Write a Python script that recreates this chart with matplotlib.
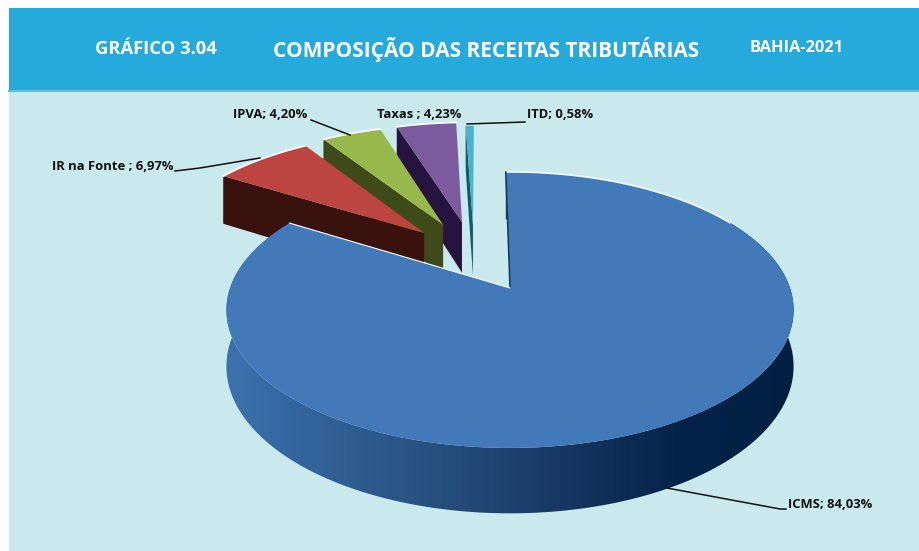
import matplotlib
matplotlib.use("Agg")
import matplotlib.pyplot as plt
import numpy as np
from matplotlib.colors import LinearSegmentedColormap
from matplotlib.patches import Polygon, Rectangle

plt.rcParams["font.family"] = ["Open Sans", "DejaVu Sans"]

# data
categories = ["ICMS", "IR na Fonte", "IPVA", "Taxas", "ITD"]
shares = [84.03, 6.97, 4.20, 4.23, 0.58]
labels = ["ICMS; 84,03%", "IR na Fonte ; 6,97%", "IPVA; 4,20%", "Taxas ; 4,23%", "ITD; 0,58%"]

# style / layout (pixel space)
top_colors = ["#4179b9", "#bc4541", "#99b84c", "#7b5b9e", "#4db2cb"]
wall_colors = [None, "#3a120d", "#3f4a19", "#26143f", "#0e5d6e"]
explode_x = [0.0, -0.328, -0.258, -0.186, -0.143]
explode_y = [0.0, 0.437, 0.506, 0.532, 0.506]
label_pos = [(788, 505), (52, 166), (233, 115), (377, 115), (527, 115)]
leaders = [
    [(667, 488), (780, 509), (786, 509)],
    [(175, 171), (200, 168), (260, 158)],
    [(311, 120), (350, 135)],
    [],
    [(525, 122), (467, 124)],
]
CX, CY, A, B, K, H = 510, 288, 280, 134.5, 0.159, 55
START = -1.0


def project(x, y, z=0.0):
    s = 1 / (1 + K * y)
    return CX + A * x * s, CY - B * y * s + H * z * s


def arc(theta0, theta1, dx, dy, z=0.0):
    th = np.radians(np.linspace(theta0, theta1, 200))
    return project(dx + np.sin(th), dy + np.cos(th), z)


edges = START + np.cumsum([0] + shares) * 3.6

fig = plt.figure(figsize=(9.2, 5.51), dpi=100)
ax = fig.add_axes([0, 0, 1, 1])
ax.axis("off")

ax.add_patch(Rectangle((9, 90), 911, 461, fc="#c9e9ed", ec="none", zorder=0))
ax.add_patch(Rectangle((9, 8), 911, 82, fc="#25aadb", ec="none", zorder=0))
ax.plot([9, 920], [90.5, 90.5], color="#62bfdc", lw=1.5, zorder=1)

ax.text(95, 49, "GRÁFICO 3.04", color="white", fontsize=13.2, fontweight="bold", va="center")
ax.text(273, 50, "COMPOSIÇÃO DAS RECEITAS TRIBUTÁRIAS", color="white", fontsize=15,
        fontweight="bold", va="center")
ax.text(750, 48, "BAHIA-2021", color="white", fontsize=11.8, fontweight="bold", va="center")

# small slices, back to front
for i in [4, 3, 2, 1]:
    t0, t1 = edges[i], edges[i + 1]
    dx, dy = explode_x[i], explode_y[i]
    # visible radial wall under the leading edge
    ox, oy = arc(t0, t0, dx, dy)
    ax0, ay0 = project(dx, dy)
    ox2, oy2 = arc(t0, t0, dx, dy, 1)
    ax2, ay2 = project(dx, dy, 1)
    ax.fill([ox[0], ax0, ax2, ox2[0]], [oy[0], ay0, ay2, oy2[0]], color=wall_colors[i], lw=0, zorder=2)
    # top face
    xs, ys = arc(t0, t1, dx, dy)
    ax.fill(np.r_[xs, ax0], np.r_[ys, ay0], color=top_colors[i], lw=0, zorder=2)
    ax.plot(xs, ys, color="white", lw=1.3, zorder=2)

# ICMS outer wall with gradient along x
t0, t1 = edges[0], edges[1]
xt, yt = arc(t0, t1, 0, 0)
xb, yb = arc(t0, t1, 0, 0, 1)
wall = Polygon(np.c_[np.r_[xt, xb[::-1]], np.r_[yt, yb[::-1]]], closed=True, fc="none", ec="none")
ax.add_patch(wall)
wall_cmap = LinearSegmentedColormap.from_list(
    "wall", [(0, "#3d72ad"), (0.13, "#33659c"), (0.31, "#2a5585"), (0.48, "#1f4470"),
             (0.66, "#10305a"), (0.80, "#03234a"), (1, "#012040")])
grad = ax.imshow(np.linspace(0, 1, 400)[None, :], cmap=wall_cmap, aspect="auto",
                 extent=(225, 796, 520, 150), zorder=3)
grad.set_clip_path(wall)

# ICMS top face
ax0, ay0 = project(0, 0)
ax.fill(np.r_[xt, ax0], np.r_[yt, ay0], color=top_colors[0], lw=0, zorder=4)
n_white = 40
ax.plot(xt[:n_white], yt[:n_white], color="white", lw=1.1, zorder=4)
ax.plot([xt[0], ax0], [yt[0], ay0], color="#0f3a60", lw=1.1, zorder=4)
ax.plot([xt[-1], ax0], [yt[-1], ay0], color="white", lw=0.8, zorder=4)

for pts in leaders:
    if pts:
        ax.plot(*zip(*pts), color="#111111", lw=1.1, zorder=5)
for lab, (x, y) in zip(labels, label_pos):
    ax.text(x, y, lab, color="#111111", fontsize=9.4, fontweight="bold", va="center", zorder=6)

ax.set_xlim(0, 920)
ax.set_ylim(551, 0)
fig.savefig("out.png", dpi=100, facecolor="white")
